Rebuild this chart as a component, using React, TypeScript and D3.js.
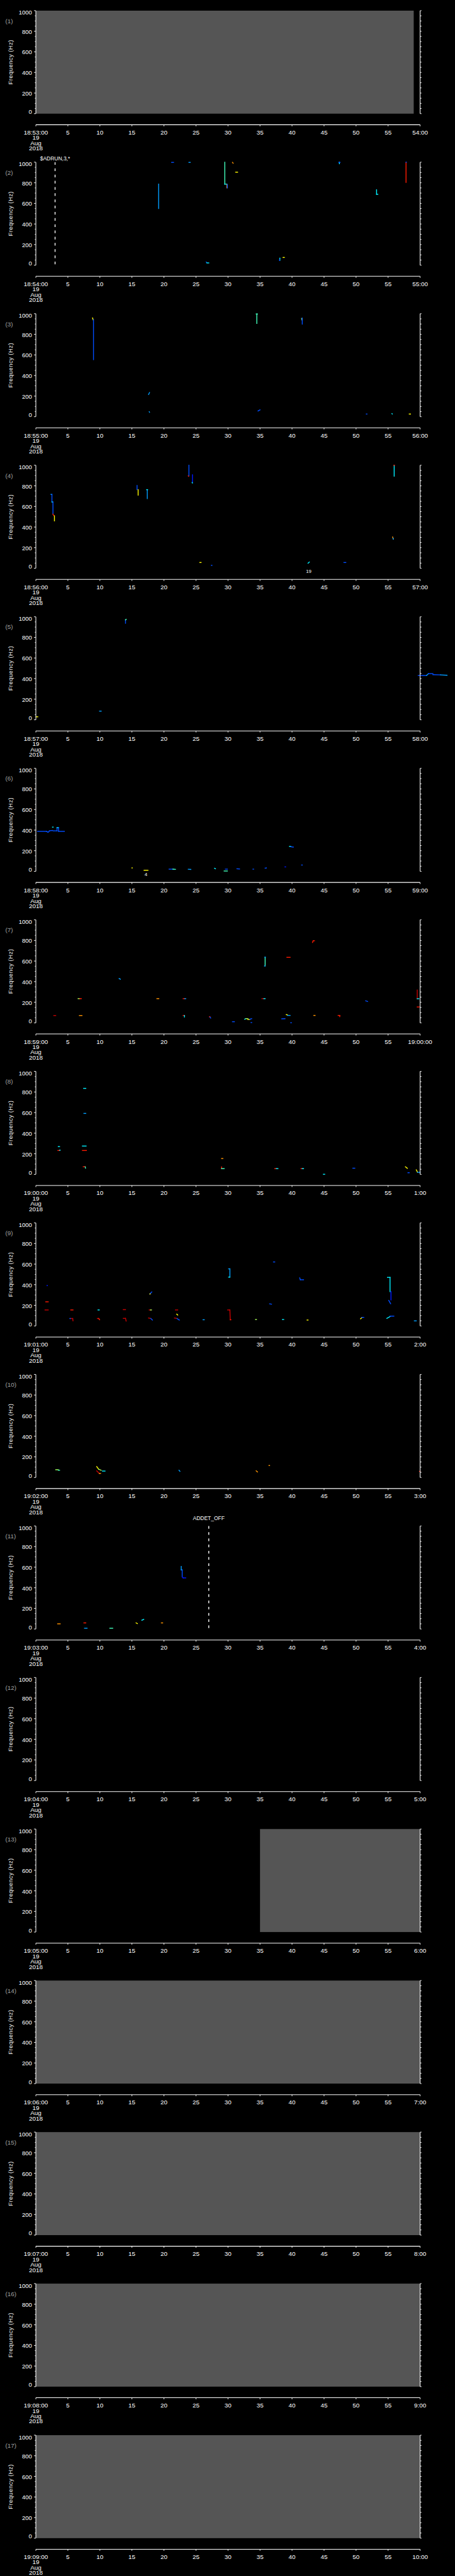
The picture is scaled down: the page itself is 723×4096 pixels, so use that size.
import React from "react";
import * as d3 from "d3";

// ---------- data ----------
const panelStarts = [
  "18:53:00", "18:54:00", "18:55:00", "18:56:00", "18:57:00", "18:58:00",
  "18:59:00", "19:00:00", "19:01:00", "19:02:00", "19:03:00", "19:04:00",
  "19:05:00", "19:06:00", "19:07:00", "19:08:00", "19:09:00",
];
const panelEnds = [
  "54:00", "55:00", "56:00", "57:00", "58:00", "59:00", "19:00:00", "1:00",
  "2:00", "3:00", "4:00", "5:00", "6:00", "7:00", "8:00", "9:00", "10:00",
];
const dateLines = ["19", "Aug", "2018"];
const freqTicks = [0, 200, 400, 600, 800, 1000];
const freqMinor = d3.range(0, 1001, 50);
const timeTicks = [0, 5, 10, 15, 20, 25, 30, 35, 40, 45, 50, 55, 60];
const timeTickLabels = ["", "5", "10", "15", "20", "25", "30", "35", "40", "45", "50", "55", ""];

// no-data (grey) coverage: [panel, t0, t1]
const grayCoverage: [number, number, number][] = [
  [1, 0, 59.0],
  [13, 35.0, 60],
  [14, 0, 60],
  [15, 0, 60],
  [16, 0, 60],
  [17, 0, 60],
];

// event markers: [panel, time, label, label offset row]
const eventMarkers: [number, number, string, number][] = [
  [2, 3.0, "$ADRUN,3,*", 0],
  [11, 27.0, "ADDET_OFF", 1],
];
// small annotations under plots: [panel, time, label]
const annotations: [number, number, string][] = [
  [4, 42.6, "19"],
  [6, 17.2, "4"],
];

// intensity levels (jet colormap)
const b = 0.15, B = 0.2, L = 0.28, C = 0.36, T = 0.44, G = 0.54, Y = 0.63, O = 0.73, R = 0.85, D = 0.93;

// marks: [t0, f0, t1, f1, level]
type Mark = [number, number, number, number, number];
const marksP2: Mark[] = [
  [21.2, 998, 21.5, 998, B], [23.9, 998, 24.1, 998, L],
  [19.17, 788, 19.17, 550, L],
  [29.5, 1000, 29.5, 787, T], [29.5, 787, 29.8, 787, C],
  [29.82, 785, 29.82, 751, O], [29.9, 785, 29.9, 751, B],
  [30.7, 998, 30.8, 990, O], [31.2, 903, 31.5, 903, Y],
  [26.6, 30, 26.7, 25, B], [26.7, 22, 27.0, 22, C],
  [38.1, 68, 38.1, 47, C], [38.05, 55, 38.05, 45, B], [38.6, 75, 38.8, 75, Y],
  [47.4, 1000, 47.4, 985, C], [47.3, 998, 47.5, 998, B],
  [53.2, 732, 53.2, 688, C], [53.2, 688, 53.4, 688, C],
  [57.8, 997, 57.8, 803, R], [57.8, 1000, 57.85, 1000, B],
];
const marksP3: Mark[] = [
  [8.85, 959, 8.95, 940, Y], [9.0, 943, 9.0, 554, B],
  [34.5, 997, 34.5, 905, T], [34.4, 997, 34.6, 997, T],
  [41.5, 954, 41.55, 940, G], [41.6, 958, 41.6, 899, B],
  [17.6, 216, 17.75, 235, L], [17.7, 49, 17.75, 43, L],
  [34.7, 56, 35.0, 67, B], [51.6, 26, 51.7, 26, B],
  [55.6, 30, 55.65, 26, C], [58.3, 26, 58.5, 26, Y],
];
const marksP4: Mark[] = [
  [2.36, 717, 2.5, 717, L], [2.51, 717, 2.51, 643, B], [2.51, 643, 2.67, 643, C],
  [2.67, 643, 2.67, 525, B], [2.67, 525, 2.8, 512, R], [2.9, 509, 2.9, 460, Y],
  [15.8, 804, 15.8, 763, B], [15.97, 763, 15.97, 710, Y],
  [17.4, 763, 17.4, 676, L], [17.3, 763, 17.45, 763, C],
  [23.9, 1000, 23.9, 897, B], [23.8, 897, 23.85, 893, R],
  [24.45, 907, 24.45, 833, b], [24.4, 833, 24.45, 828, C],
  [55.95, 1000, 55.95, 894, C], [55.9, 1000, 56.0, 1000, R],
  [55.7, 304, 55.8, 283, O], [55.8, 290, 55.8, 283, L],
  [25.6, 56, 25.8, 56, Y], [27.4, 28, 27.5, 28, B],
  [42.5, 49, 42.7, 60, C], [48.1, 56, 48.4, 56, B],
];
const marksP5: Mark[] = [
  [14.0, 970, 14.0, 937, B], [14.0, 970, 14.1, 975, T],
  [9.95, 84, 10.2, 84, L], [0.05, 29, 0.3, 29, Y],
  // trace running past the right edge
  [59.7, 430, 61.0, 430, B], [61.0, 430, 61.3, 448, L], [61.3, 448, 62.0, 448, B],
  [62.0, 438, 63.2, 436, B], [63.2, 436, 64.2, 432, L],
];
const marksP6: Mark[] = [
  [0.27, 388, 1.65, 388, B], [1.65, 388, 1.9, 380, B], [1.9, 380, 2.1, 388, B],
  [2.1, 394, 2.6, 396, B], [2.6, 429, 2.7, 429, C], [2.7, 393, 3.3, 393, B],
  [3.3, 393, 3.3, 424, B], [3.3, 424, 3.55, 424, C], [3.55, 424, 3.55, 388, B],
  [3.55, 388, 4.45, 388, B],
  [39.6, 242, 39.8, 242, C], [39.8, 238, 40.2, 235, B], [41.5, 61, 41.6, 61, B],
  [15.0, 33, 15.05, 33, Y], [16.9, 10, 17.5, 10, Y],
  [20.8, 21, 21.4, 21, B], [21.4, 21, 21.8, 19, T], [23.8, 20, 24.2, 18, L],
  [27.9, 29, 28.05, 25, C], [29.4, 3, 29.9, 3, T], [29.6, 21, 29.9, 21, B],
  [31.4, 25, 31.8, 23, B], [33.9, 21, 34.0, 21, B], [35.8, 31, 36.0, 33, B],
  [38.9, 43, 39.0, 43, b],
];
const marksP7: Mark[] = [
  [43.2, 781, 43.3, 797, R], [43.3, 797, 43.5, 797, R],
  [35.8, 637, 35.8, 552, T], [35.75, 637, 35.85, 637, L], [35.7, 552, 35.8, 552, L],
  [39.2, 636, 39.7, 636, R], [13.0, 430, 13.2, 423, L],
  [6.6, 235, 6.85, 235, G], [6.85, 235, 7.1, 235, R], [18.9, 235, 19.2, 235, O],
  [23.0, 235, 23.25, 235, R], [23.25, 235, 23.4, 235, L],
  [35.3, 235, 35.6, 235, D], [35.6, 235, 35.8, 235, C],
  [51.5, 214, 51.8, 208, B],
  [59.55, 319, 59.55, 234, D], [59.55, 234, 59.8, 234, C], [59.55, 154, 59.85, 154, R],
  [2.8, 71, 3.1, 71, D], [6.8, 71, 7.2, 71, O],
  [23.0, 72, 23.2, 72, R], [23.2, 72, 23.2, 57, C],
  [43.4, 72, 43.6, 72, O], [47.2, 72, 47.45, 72, R], [47.45, 72, 47.45, 60, R],
  [27.1, 59, 27.2, 59, R], [27.2, 55, 27.3, 46, B], [30.7, 11, 31.0, 11, B],
  [32.6, 35, 32.8, 41, C], [32.8, 41, 33.1, 41, G], [33.1, 33, 33.4, 33, Y],
  [33.4, 35, 33.7, 41, B], [33.6, 3, 33.7, 3, B], [38.4, 39, 38.9, 40, B],
  [39.1, 80, 39.3, 76, Y], [39.3, 72, 39.7, 72, L], [39.8, 1, 39.9, 1, B],
];
const marksP8: Mark[] = [
  [7.46, 835, 7.8, 835, C], [7.5, 592, 7.8, 592, L],
  [7.27, 275, 7.85, 275, C], [7.27, 232, 7.9, 232, R],
  [3.5, 270, 3.7, 270, C], [3.44, 232, 3.7, 232, R], [3.7, 235, 3.8, 235, C],
  [29.0, 154, 29.2, 154, O],
  [7.4, 74, 7.7, 74, R], [7.7, 74, 7.75, 60, T],
  [29.0, 73, 29.0, 56, R], [29.0, 56, 29.4, 56, T],
  [37.3, 56, 37.55, 56, R], [37.55, 56, 37.8, 56, C],
  [41.4, 56, 41.6, 56, R], [41.6, 56, 41.8, 56, C],
  [44.9, 1, 45.1, 1, C], [49.5, 60, 49.8, 60, B],
  [57.7, 74, 58.0, 59, Y], [58.1, 16, 58.3, 16, B],
  [59.4, 44, 59.6, 20, Y], [59.6, 20, 60.0, 20, L],
];
const marksP9: Mark[] = [
  [1.74, 392, 1.8, 392, b], [1.55, 234, 1.93, 234, R], [1.43, 155, 1.93, 155, D],
  [5.45, 155, 5.8, 155, R], [9.7, 155, 9.9, 155, C], [13.65, 158, 14.0, 158, D],
  [17.7, 155, 17.9, 155, D], [17.9, 155, 18.05, 155, G], [21.8, 155, 22.15, 155, D],
  [29.95, 155, 30.3, 155, D], [30.3, 155, 30.35, 60, D], [30.35, 60, 30.45, 60, R],
  [5.4, 72, 5.75, 72, D], [5.75, 72, 5.8, 49, D], [5.3, 72, 5.4, 72, B],
  [9.6, 72, 9.8, 72, D], [9.8, 72, 9.95, 60, R],
  [13.65, 73, 14.0, 73, D], [14.0, 73, 14.1, 47, D],
  [17.6, 77, 17.95, 72, D], [17.95, 72, 18.2, 57, B],
  [21.65, 77, 22.05, 72, D], [22.05, 72, 22.4, 57, B],
  [22.0, 114, 22.15, 105, Y], [17.8, 310, 18.1, 330, B], [17.8, 310, 17.85, 310, Y],
  [26.1, 60, 26.3, 60, L],
  [30.1, 554, 30.3, 554, L], [30.3, 554, 30.3, 474, L], [30.1, 474, 30.3, 474, C],
  [37.1, 621, 37.3, 621, B], [41.2, 466, 41.3, 448, B], [41.3, 448, 41.8, 448, B],
  [36.5, 214, 36.8, 211, B], [34.3, 62, 34.45, 62, G], [38.5, 62, 38.7, 62, C],
  [42.35, 57, 42.5, 57, Y], [50.7, 69, 50.9, 80, Y], [50.9, 83, 51.2, 83, B],
  [54.9, 471, 55.3, 471, C], [55.3, 471, 55.3, 333, C], [55.45, 333, 55.45, 252, b],
  [55.1, 248, 55.4, 216, B], [54.8, 73, 55.3, 90, C], [55.3, 95, 55.9, 95, B],
  [59.1, 49, 59.4, 49, L],
];
const marksP10: Mark[] = [
  [3.1, 75, 3.5, 75, G], [3.5, 70, 3.7, 70, T],
  [9.5, 106, 9.8, 80, Y], [9.8, 80, 10.2, 70, G],
  [9.5, 64, 9.9, 39, D], [9.9, 39, 10.1, 39, O], [10.4, 62, 10.8, 62, C],
  [22.35, 70, 22.5, 59, L], [34.4, 64, 34.6, 54, O], [36.4, 116, 36.5, 116, O],
  [59.9, 59, 60.0, 59, R],
];
const marksP11: Mark[] = [
  [22.7, 608, 22.7, 573, L], [22.7, 573, 22.85, 573, L], [22.85, 573, 22.85, 506, B],
  [22.85, 506, 23.0, 496, b], [23.0, 496, 23.4, 496, b],
  [3.4, 50, 3.8, 50, O], [7.5, 59, 7.8, 59, R], [7.6, 7, 8.0, 7, L],
  [11.55, 7, 12.0, 7, T], [15.65, 59, 15.85, 53, Y], [16.55, 85, 16.85, 93, C],
  [19.6, 59, 19.8, 59, O],
];

const panelMarks: Record<number, Mark[]> = {
  2: marksP2, 3: marksP3, 4: marksP4, 5: marksP5, 6: marksP6,
  7: marksP7, 8: marksP8, 9: marksP9, 10: marksP10, 11: marksP11,
};

// ---------- layout (reference pixel space, scaled by viewBox) ----------
const W = 1024, H = 5802;
const TOP0 = 24, STEP = 341.3, PH = 232;
const X0 = 80.7, X1 = 945.5;
const FONT = "'Liberation Sans', Arial, sans-serif";

const jet = d3
  .scaleLinear<string>()
  .domain([0, 0.125, 0.375, 0.625, 0.875, 1])
  .range(["#00008f", "#0000ff", "#00ffff", "#ffff00", "#ff0000", "#800000"]);

const x = d3.scaleLinear().domain([0, 60]).range([X0, X1]);

function Panel({ i }: { i: number }) {
  const n = i + 1;
  const top = TOP0 + i * STEP;
  const y = d3.scaleLinear().domain([0, 1000]).range([top + PH, top]);
  const axisY = top + 257;
  const marks = panelMarks[n] || [];
  const grays = grayCoverage.filter((g) => g[0] === n);
  const evs = eventMarkers.filter((e) => e[0] === n);
  const anns = annotations.filter((a) => a[0] === n);
  return (
    <g>
      {grays.map((g, k) => (
        <rect key={k} x={x(g[1])} y={y(1000)} width={x(g[2]) - x(g[1])} height={y(0) - y(1000)} fill="#555555" />
      ))}
      {marks.map((m, k) => (
        <line key={k} x1={x(m[0])} y1={y(m[1])} x2={x(m[2])} y2={y(m[3])}
          stroke={jet(m[4])} strokeWidth={2} strokeLinecap="square" />
      ))}
      {evs.map((e, k) => (
        <g key={k}>
          <line x1={x(e[1])} x2={x(e[1])} y1={y(1000)} y2={y(0)} stroke="#fff" strokeWidth={2} strokeDasharray="6 8" />
          <text x={x(e[1])} y={top - 3.6 - e[3] * 10} fill="#fff" fontSize={12} fontFamily={FONT} textAnchor="middle">{e[2]}</text>
        </g>
      ))}
      {anns.map((a, k) => (
        <text key={k} x={x(a[1])} y={top + PH + 11} fill="#fff" fontSize={11} fontFamily={FONT} textAnchor="middle">{a[2]}</text>
      ))}
      {/* left axis */}
      <line x1={X0} x2={X0} y1={y(0)} y2={y(1000)} stroke="#fff" strokeWidth={1.5} />
      {freqMinor.map((f) => (
        <line key={"lm" + f} x1={X0 - (f % 200 === 0 ? 4.3 : 2.3)} x2={X0} y1={y(f)} y2={y(f)} stroke="#fff" strokeWidth={1.3} />
      ))}
      {freqTicks.map((f) => (
        <text key={"lt" + f} x={72} y={Math.min(Math.max(y(f) + 0.7, top + 4.2), top + PH - 4.2)}
          fill="#fff" fontSize={13.5} fontFamily={FONT} textAnchor="end" dominantBaseline="central">{f}</text>
      ))}
      {/* right axis */}
      <line x1={X1} x2={X1} y1={y(0)} y2={y(1000)} stroke="#fff" strokeWidth={1.5} />
      {freqMinor.map((f) => (
        <line key={"rm" + f} x1={X1} x2={X1 + 3.2} y1={y(f)} y2={y(f)} stroke="#fff" strokeWidth={1.3} />
      ))}
      {/* labels */}
      <text x={12} y={top + 28} fill="#a0a0a0" fontSize={14} fontFamily={FONT}>({n})</text>
      <text transform={`translate(23,${top + PH / 2}) rotate(-90)`} fill="#f0f0f0" fontSize={13.5}
        fontFamily={FONT} textAnchor="middle" dominantBaseline="central" letterSpacing={0.6}>Frequency (Hz)</text>
      {/* time axis */}
      <line x1={X0} x2={X1} y1={axisY} y2={axisY} stroke="#fff" strokeWidth={1.5} />
      {timeTicks.map((t, k) => (
        <g key={"tt" + t}>
          <line x1={x(t)} x2={x(t)} y1={axisY} y2={axisY + 3.5} stroke="#fff" strokeWidth={1.3} />
          <text x={x(t)} y={axisY + 17} fill="#fff" fontSize={14} fontFamily={FONT} textAnchor="middle"
            dominantBaseline="central">
            {k === 0 ? panelStarts[i] : k === timeTicks.length - 1 ? panelEnds[i] : timeTickLabels[k]}
          </text>
        </g>
      ))}
      {dateLines.map((s, k) => (
        <text key={"d" + k} x={X0} y={axisY + 29 + k * 12} fill="#fff" fontSize={14} fontFamily={FONT}
          textAnchor="middle" dominantBaseline="central">{s}</text>
      ))}
    </g>
  );
}

export default function App() {
  return (
    <svg width={723} height={4096} viewBox={`0 0 ${W} ${H}`} preserveAspectRatio="none"
      style={{ position: "absolute", left: 0, top: 0, display: "block", background: "#000" }}>
      <rect x={0} y={0} width={W} height={H} fill="#000" />
      {panelStarts.map((_, i) => (
        <Panel key={i} i={i} />
      ))}
    </svg>
  );
}
